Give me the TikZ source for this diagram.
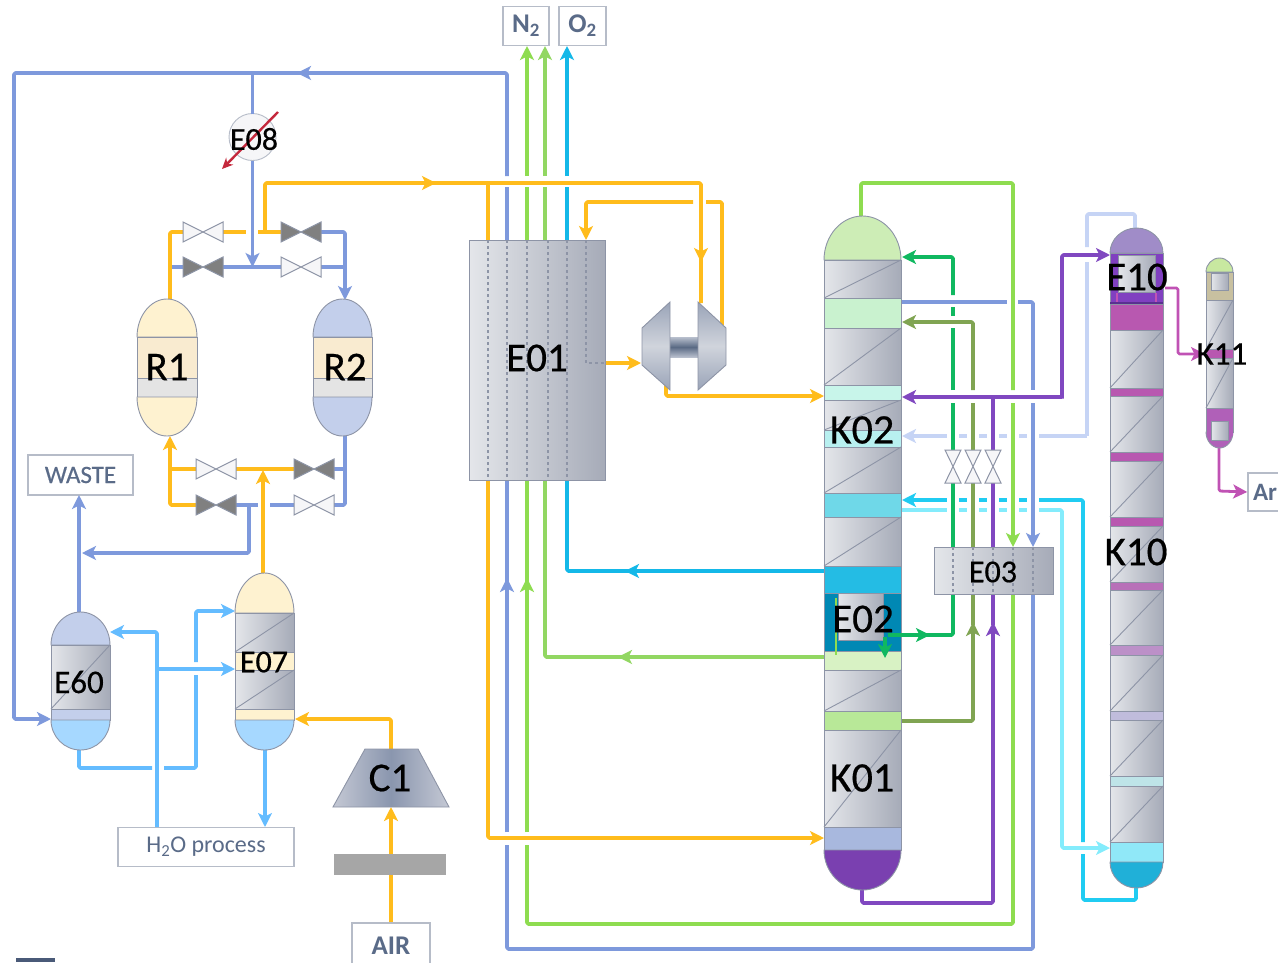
\documentclass[tikz,border=0pt]{standalone}
\usepackage{fontspec}
\setmainfont{Carlito}
\newfontfamily\tagfont[FakeBold=0.5]{Carlito}
\usetikzlibrary{arrows.meta}
\newcommand\hx[1]{\definecolor{#1}{HTML}{#1}}
\hx{B8BFCD}\hx{5A6A84}\hx{9AA4B8}\hx{D0D4DC}\hx{CDEDB6}\hx{C9F2CF}\hx{C8F5EA}\hx{B8F0F0}\hx{6FD8E8}\hx{24BCE4}\hx{0088B4}\hx{D8F2C4}\hx{B8E898}\hx{A8B8DE}\hx{7A40B0}\hx{A08CC8}\hx{8040C0}\hx{5A3090}\hx{B858B0}\hx{B870B8}\hx{BC90C8}\hx{C0BCDC}\hx{BEE4E8}\hx{90E8F8}\hx{20B0D8}\hx{C8E8A0}\hx{C8C0A0}\hx{B060B8}\hx{E4E4E4}\hx{C4C8D4}\hx{8A96AE}\hx{A6A6A6}\hx{C4283C}\hx{4A5A78}
\definecolor{cBlue}{HTML}{7E99DC}
\definecolor{cOrange}{HTML}{FFBC1C}
\definecolor{cLime}{HTML}{8EDC50}
\definecolor{cLimeB}{HTML}{92D762}
\definecolor{cCyan}{HTML}{14B8E8}
\definecolor{cSky}{HTML}{64BCFF}
\definecolor{cDG}{HTML}{10B860}
\definecolor{cOlive}{HTML}{80A452}
\definecolor{cPurple}{HTML}{8048C0}
\definecolor{cPeri}{HTML}{C6D4F5}
\definecolor{cCy2}{HTML}{20CCF2}
\definecolor{cCy3}{HTML}{84ECFC}
\definecolor{cMag}{HTML}{C052B4}
\definecolor{cEdge}{HTML}{8D94A6}
\definecolor{cBoxT}{HTML}{5A6B88}
\definecolor{cBoxE}{HTML}{B6BCC8}
\definecolor{cPL}{HTML}{E4E6EA}
\definecolor{cPR}{HTML}{A6ABB8}
\definecolor{cCream}{HTML}{FEF2D0}
\definecolor{cTan}{HTML}{F9EBD0}
\definecolor{cVblue}{HTML}{C3CFEB}
\definecolor{cWater}{HTML}{A6D8FF}
\tikzset{
  flow/.style={line width=3.7pt,rounded corners=1.5pt,line join=round},
  tipped/.style={-{Stealth[length=14pt,width=14pt,inset=3.5pt]}},
  edge/.style={draw=cEdge,line width=0.9pt},
  lbox/.style={draw=cBoxE,line width=1.6pt,fill=white,inner sep=0pt,text=cBoxT},
  tag/.style={inner sep=0pt,text=black},
  hold/.style={inner sep=0pt,outer sep=0pt},
  dots/.style={draw=cEdge,line width=1.3pt,dash pattern=on 2.5pt off 3.5pt}
}
\newcommand\bandseg[5]{\fill[#5] (#1,#3) rectangle (#2,#4);\draw[edge] (#1,#3) rectangle (#2,#4);}
\newcommand\packbed[4]{\shade[left color=cPL,right color=cPR] (#1,#3) rectangle (#2,#4);
  \draw[edge] (#1,#3) rectangle (#2,#4);\draw[edge] (#2,#3) -- (#1,#4);}
\newcommand\domeup[5]{\pgfmathsetmacro\dmx{(#1+#2)/2}\pgfmathsetmacro\dch{#4-0.55*(#4-#3)}\pgfmathsetmacro\dcl{\dmx-0.55*(#2-#1)/2}\pgfmathsetmacro\dcr{\dmx+0.55*(#2-#1)/2}
  \draw[edge,fill=#5] (#1,#4) .. controls (#1,\dch) and (\dcl,#3) .. (\dmx,#3) .. controls (\dcr,#3) and (#2,\dch) .. (#2,#4) -- cycle;}
\newcommand\domedn[5]{\pgfmathsetmacro\dmx{(#1+#2)/2}\pgfmathsetmacro\dch{#3+0.55*(#4-#3)}\pgfmathsetmacro\dcl{\dmx-0.55*(#2-#1)/2}\pgfmathsetmacro\dcr{\dmx+0.55*(#2-#1)/2}
  \draw[edge,fill=#5] (#1,#3) .. controls (#1,\dch) and (\dcl,#4) .. (\dmx,#4) .. controls (\dcr,#4) and (#2,\dch) .. (#2,#3) -- cycle;}
\newcommand\valveh[4]{\draw[draw=cEdge,line width=1pt,fill=#4] (#1.north west) -- (#1.south west) -- (#1.north east) -- (#1.south east) -- cycle;}
\newcommand\valvev[3]{\draw[draw=cEdge,line width=1pt,fill=white!92!cEdge] (#1.north west) -- (#1.north east) -- (#1.south west) -- (#1.south east) -- cycle;}
\newcommand\tipat[5]{\draw[flow,#1,tipped] ({#2-(#4)},{#3-(#5)}) -- (#2,#3);}
\newcommand\seglabel[4]{\node[tag,font=\tagfont\fontsize{#4}{#4}\selectfont] (#1) at (#2) {#3};}
\begin{document}
\begin{tikzpicture}[x=1pt,y=-1pt]
\useasboundingbox (0,0) rectangle (1278,962);
\clip (0,0) rectangle (1278,962);

% ---------- boxes
\node[lbox,minimum width=105pt,minimum height=40pt,font=\tagfont\fontsize{25}{25}\selectfont] (waste) at (80.5,475) {WASTE};
\node[lbox,minimum width=176pt,minimum height=39pt,font=\fontsize{24}{24}\selectfont] (hproc) at (206,847) {\raisebox{-3pt}{H\textsubscript{2}O process}};
\node[lbox,minimum width=78pt,minimum height=46pt,font=\fontsize{27}{27}\selectfont\bfseries] (air) at (391,946) {AIR};
\node[lbox,minimum width=46pt,minimum height=39pt,font=\fontsize{27}{27}\selectfont\bfseries] (ntwo) at (526,26) {N\textsubscript{2}};
\node[lbox,minimum width=47pt,minimum height=39pt,font=\fontsize{27}{27}\selectfont\bfseries] (otwo) at (582.5,26) {O\textsubscript{2}};
\node[lbox,minimum width=60pt,minimum height=38pt,font=\fontsize{25}{25}\selectfont\bfseries,text width=54pt,align=left] (argon) at (1278,492) {\hspace*{2pt}Ar};

% ---------- ports
\coordinate (e60w) at (51,719);
\coordinate (e60n) at (79,612);
\coordinate (e60s) at (79,750);
\coordinate (e60e) at (110,632);
\coordinate (e07a) at (235,611);
\coordinate (e07b) at (235,669);
\coordinate (e07n) at (263,573);
\coordinate (e07s) at (265,750);
\coordinate (e07e) at (295,719);
\coordinate (r1n) at (170,299);
\coordinate (r1s) at (170,436);
\coordinate (r2n) at (345,300);
\coordinate (r2s) at (345,436);
\coordinate (c1n) at (391,749);
\coordinate (c1s) at (391,807);
\coordinate (tbl) at (641,363);
\coordinate (tbr) at (722,325);
\coordinate (tbn) at (701,303);
\coordinate (tbs) at (666,385);
\coordinate (eo1) at (605,363);
\coordinate (kk1) at (824,396);
\coordinate (kk2) at (824,838);
\coordinate (kk3) at (824,571);
\coordinate (kk4) at (824,657);
\coordinate (kr1) at (902,257);
\coordinate (kr2) at (902,302);
\coordinate (kr3) at (902,322);
\coordinate (kr4) at (902,397);
\coordinate (kr5) at (902,436);
\coordinate (kr6) at (902,500);
\coordinate (kr7) at (902,510);
\coordinate (kr8) at (902,721);
\coordinate (ktop) at (861,216);
\coordinate (kbot) at (862,890);
\coordinate (xn) at (1110,255);
\coordinate (xe) at (1110,848);
\coordinate (xt) at (1135,228);
\coordinate (xb) at (1136,888);
\coordinate (xr) at (1165,288);
\coordinate (yw) at (1205,354);
\coordinate (ys) at (1219,448);

% ---------- left side connectors (drawn below the valves)
\node[hold,minimum width=40pt,minimum height=20pt] (va) at (203,232) {};
\node[hold,minimum width=40pt,minimum height=20pt] (vb) at (301,232) {};
\node[hold,minimum width=40pt,minimum height=20pt] (vc) at (203,267) {};
\node[hold,minimum width=40pt,minimum height=20pt] (vd) at (301,267) {};
\node[hold,minimum width=40pt,minimum height=20pt] (ve) at (216,469) {};
\node[hold,minimum width=40pt,minimum height=20pt] (vf) at (314,469) {};
\node[hold,minimum width=40pt,minimum height=20pt] (vg) at (216,505) {};
\node[hold,minimum width=40pt,minimum height=20pt] (vh) at (314,505) {};
\node[circle,hold,draw=cBoxE,fill=white!92!cEdge,line width=0.9pt,minimum size=47pt] (eo8) at (252.5,137) {};

\draw[flow,cBlue,tipped] (507,176) -- (507,73) -- (14,73) -- (14,719) -- (e60w);
\draw[flow,cBlue] (507,187) -- (507,240);
\tipat{cBlue}{297}{73}{-8}{0}
\draw[flow,cBlue] (252.5,73) -- (eo8.north);
\draw[flow,cBlue,tipped] (eo8.south) -- (252.5,267);
\draw[flow,cBlue] (172,267) -- (vc.west);
\draw[flow,cBlue] (vc.east) -- (vd.west);
\draw[flow,cBlue] (vd.east) -- (345,267);
\draw[flow,cBlue,tipped] (vb.east) -- (345,232) -- (r2n);
\draw[flow,cOrange] (r1n) -- (170,232) -- (va.west);
\draw[flow,cOrange] (va.east) -- (246,232);
\draw[flow,cOrange] (258,232) -- (vb.west);
\draw[flow,cOrange] (265,232) -- (265,183) -- (701,183) -- (tbn);
\tipat{cOrange}{436}{183}{8}{0}
\tipat{cOrange}{701}{262}{0}{8}
\draw[flow,cOrange,tipped] (vg.west) -- (170,505) -- (r1s);
\draw[flow,cOrange] (ve.west) -- (170,469);
\draw[flow,cOrange] (ve.east) -- (vf.west);
\draw[flow,cBlue] (vf.east) -- (345,469);
\draw[flow,cBlue] (vg.east) -- (258,505);
\draw[flow,cBlue] (270,505) -- (vh.west);
\draw[flow,cBlue] (vh.east) -- (345,505) -- (r2s);
\draw[flow,cOrange,tipped] (e07n) -- (263,470);
\draw[flow,cBlue,tipped] (249,505) -- (249,553) -- (82,553);
\draw[flow,cBlue,tipped] (e60n) -- (79,495);
\draw[flow,cSky,tipped] (157,827) -- (157,632) -- (e60e);
\draw[flow,cSky,tipped] (157,669) -- (e07b);
\draw[flow,cSky] (e60s) -- (79,768) -- (152,768);
\draw[flow,cSky] (164,768) -- (196,768) -- (196,675);
\draw[flow,cSky,tipped] (196,662) -- (196,611) -- (e07a);
\draw[flow,cSky,tipped] (e07s) -- (265,827);
\draw[flow,cOrange,tipped] (c1n) -- (391,719) -- (e07e);
\draw[flow,cOrange,tipped] (air.north) -- (c1s);

% ---------- valves
\valveh{va}{203}{232}{white!92!cEdge}
\valveh{vb}{301}{232}{gray}
\valveh{vc}{203}{267}{gray}
\valveh{vd}{301}{267}{white!92!cEdge}
\valveh{ve}{216}{469}{white!92!cEdge}
\valveh{vf}{314}{469}{gray}
\valveh{vg}{216}{505}{gray}
\valveh{vh}{314}{505}{white!92!cEdge}

% ---------- E01 connectors
\draw[flow,cLime,tipped] (527,176) -- (527,46);
\draw[flow,cLime] (527,187) -- (527,240);
\draw[flow,cLimeB,tipped] (545,176) -- (545,46);
\draw[flow,cLimeB] (545,187) -- (545,240);
\draw[flow,cCyan,tipped] (567,176) -- (567,46);
\draw[flow,cCyan] (567,187) -- (567,240);
\draw[flow,cOrange] (488,183) -- (488,240);
\draw[flow,cOrange] (tbr) -- (722,202) -- (706,202);
\draw[flow,cOrange,tipped] (693,202) -- (586,202) -- (586,240);
\draw[flow,cOrange,tipped] (eo1) -- (tbl);
\draw[flow,cOrange,tipped] (tbs) -- (666,396) -- (kk1);
\draw[flow,cOrange,tipped] (488,480) -- (488,838) -- (kk2);
\draw[flow,cCyan] (kk3) -- (567,571) -- (567,480);
\tipat{cCyan}{625}{571}{-8}{0}
\draw[flow,cLimeB] (kk4) -- (545,657) -- (545,480);
\tipat{cLimeB}{618}{657}{-8}{0}
\draw[flow,cBlue] (507,832) -- (507,480);
\tipat{cBlue}{507}{578}{0}{-8}
\draw[flow,cLime] (527,832) -- (527,480);
\tipat{cLime}{527}{578}{0}{-8}

% ---------- light lines right of the columns
\draw[flow,cPeri,tipped] (1087,436) -- (kr5);
\draw[flow,cPeri] (1087,247) -- (1087,214) -- (1135,214) -- (xt);
\draw[flow,cCy2,tipped] (1083,842) -- (1083,500) -- (kr6);
\draw[flow,cCy2] (1083,854) -- (1083,900) -- (1136,900) -- (xb);
\draw[flow,cCy3,tipped] (kr7) -- (1062,510) -- (1062,848) -- (xe);
\fill[white] (947,428) rectangle (959,516);
\fill[white] (967,428) rectangle (979,516);
\fill[white] (987,428) rectangle (999,516);
\fill[white] (1007,428) rectangle (1019,516);
\fill[white] (1027,428) rectangle (1039,516);
\draw[flow,cPeri] (1087,262) -- (1087,436);

% ---------- verticals at E03
\node[hold,minimum width=16pt,minimum height=33pt] (vx) at (953,466.5) {};
\node[hold,minimum width=16pt,minimum height=33pt] (vy) at (973,466.5) {};
\node[hold,minimum width=16pt,minimum height=33pt] (vz) at (993,466.5) {};
\draw[flow,cDG,tipped] (953,295) -- (953,257) -- (kr1);
\draw[flow,cDG] (953,316) -- (953,307);
\draw[flow,cDG] (953,390) -- (953,328);
\draw[flow,cDG] (953,403) -- (vx.north);
\draw[flow,cDG] (vx.south) -- (953,547);
\draw[flow,cOlive,tipped] (973,390) -- (973,322) -- (kr3);
\draw[flow,cOlive] (973,403) -- (vy.north);
\draw[flow,cOlive] (vy.south) -- (973,547);
\draw[flow,cPurple] (993,397) -- (vz.north);
\draw[flow,cPurple] (vz.south) -- (993,547);
\draw[flow,cPurple,tipped] (1062,397) -- (kr4);
\draw[flow,cPurple,tipped] (1062,398.6) -- (1062,255) -- (xn);
\draw[flow,cLime] (ktop) -- (861,183) -- (1013,183) -- (1013,390);
\draw[flow,cLime,tipped] (1013,403) -- (1013,547);
\draw[flow,cBlue] (1033,312) -- (1033,390);
\draw[flow,cBlue,tipped] (1033,403) -- (1033,547);
\draw[flow,cBlue] (kr2) -- (1007,302);
\draw[flow,cBlue] (1018,302) -- (1033,302) -- (1033,312);
\valvev{vx}{953}{466.5}
\valvev{vy}{973}{466.5}
\valvev{vz}{993}{466.5}
% below E03
\draw[flow,cDG] (953,594) -- (953,635) -- (888,635);
\tipat{cDG}{930}{635}{8}{0}
\draw[flow,cOlive,tipped] (kr8) -- (973,721) -- (973,622);
\draw[flow,cOlive] (973,625) -- (973,594);
\draw[flow,cPurple,tipped] (kbot) -- (862,903) -- (993,903) -- (993,622);
\draw[flow,cPurple] (993,625) -- (993,594);
\draw[flow,cLime] (1013,594) -- (1013,924) -- (527,924) -- (527,845);
\draw[flow,cBlue] (1033,594) -- (1033,949) -- (507,949) -- (507,845);

% ---------- magenta
\draw[flow,cMag,tipped,line width=2.8pt] (xr) -- (1178,288) -- (1178,354) -- (yw);
\draw[flow,cMag,tipped,line width=2.8pt] (ys) -- (1219,491) -- (argon.west);

% ---------- E01
\node[hold,minimum width=136pt,minimum height=240pt] (eone) at (537,360) {};
\shade[left color=cPL,right color=cPR] (eone.north west) rectangle (eone.south east);
\draw[edge] (eone.north west) rectangle (eone.south east);
\foreach \q in {488,507,527,548,567} {\draw[dots] (\q,240) -- (\q,480);}
\draw[dots] (586,240) -- (586,363) -- (605,363);

% ---------- turbine
\node[hold,minimum width=85pt,minimum height=88pt] (turb) at (684,346) {};
\shade[top color=B8BFCD,bottom color=B8BFCD,middle color=5A6A84] (670,337) rectangle (698,357);
\shade[top color=9AA4B8,bottom color=9AA4B8,middle color=D0D4DC] (642,328) -- (670,302) -- (670,390) -- (642,365) -- cycle;
\draw[edge] (642,328) -- (670,302) -- (670,390) -- (642,365) -- cycle;
\shade[top color=9AA4B8,bottom color=9AA4B8,middle color=D0D4DC] (698,302) -- (726,328) -- (726,365) -- (698,390) -- cycle;
\draw[edge] (698,302) -- (726,328) -- (726,365) -- (698,390) -- cycle;

% ---------- E03
\node[hold,minimum width=119pt,minimum height=47pt] (ethree) at (993.5,570.5) {};
\shade[left color=cPL,right color=cPR] (ethree.north west) rectangle (ethree.south east);
\draw[edge] (ethree.north west) rectangle (ethree.south east);
\foreach \q in {953,973,993,1013,1033} {\draw[dots] (\q,547) -- (\q,594);}

% ---------- K01/K02 column
\domeup{824}{901}{216}{260}{CDEDB6}
\packbed{824}{901}{260}{298}
\bandseg{824}{901}{298}{328}{C9F2CF}
\packbed{824}{901}{328}{385}
\bandseg{824}{901}{385}{400}{C8F5EA}
\packbed{824}{901}{400}{430}
\bandseg{824}{901}{430}{447}{B8F0F0}
\packbed{824}{901}{447}{493}
\bandseg{824}{901}{493}{517}{6FD8E8}
\packbed{824}{901}{517}{566}
\bandseg{824}{901}{566}{593}{24BCE4}
\bandseg{824}{901}{593}{651}{0088B4}
\bandseg{824}{901}{651}{670}{D8F2C4}
\packbed{824}{901}{670}{711}
\bandseg{824}{901}{711}{730}{B8E898}
\packbed{824}{901}{730}{827}
\bandseg{824}{901}{827}{850}{A8B8DE}
\domedn{824}{901}{850}{890}{7A40B0}
\shade[left color=cPL,right color=cPR] (838,593) rectangle (883,640);
\draw[edge] (838,593) rectangle (883,640);
\draw[flow,cLime,line width=2pt] (836,598) -- (836,655);
\draw[flow,cDG] (888,635) -- (905,635);
\draw[flow,cDG,tipped] (885,637) -- (885,658);

% ---------- K10 column
\domeup{1110}{1163}{228}{253}{A08CC8}
\bandseg{1110}{1163}{253}{304}{8040C0}
\shade[left color=cPL,right color=cPR] (1118,255) rectangle (1155,292);
\draw[edge] (1118,255) rectangle (1155,292);
\draw[cMag,line width=2pt] (1117,293) -- (1117,308);
\draw[cMag,line width=2pt] (1156,293) -- (1156,308);
\draw[5A3090,line width=2pt] (1110,303) -- (1163,303);
\bandseg{1110}{1163}{304}{330}{B858B0}
\packbed{1110}{1163}{330}{388}
\bandseg{1110}{1163}{388}{396}{B858B0}
\packbed{1110}{1163}{396}{452}
\bandseg{1110}{1163}{452}{461}{B858B0}
\packbed{1110}{1163}{461}{517}
\bandseg{1110}{1163}{517}{526}{B858B0}
\packbed{1110}{1163}{526}{582}
\bandseg{1110}{1163}{582}{590}{B870B8}
\packbed{1110}{1163}{590}{645}
\bandseg{1110}{1163}{645}{655}{BC90C8}
\packbed{1110}{1163}{655}{711}
\bandseg{1110}{1163}{711}{720}{C0BCDC}
\packbed{1110}{1163}{720}{776}
\bandseg{1110}{1163}{776}{786}{BEE4E8}
\packbed{1110}{1163}{786}{842}
\bandseg{1110}{1163}{842}{862}{90E8F8}
\domedn{1110}{1163}{862}{888}{20B0D8}

% ---------- K11
\domeup{1206}{1233}{258}{272}{C8E8A0}
\bandseg{1206}{1233}{272}{300}{C8C0A0}
\shade[left color=cPL,right color=cPR] (1211,273) rectangle (1228,290);
\draw[edge] (1211,273) rectangle (1228,290);
\packbed{1206}{1233}{300}{349}
\bandseg{1206}{1233}{349}{358}{B858B0}
\packbed{1206}{1233}{358}{408}
\bandseg{1206}{1233}{408}{432}{B060B8}
\domedn{1206}{1233}{432}{448}{B060B8}
\fill[B060B8] (1206.5,428) rectangle (1232.5,436);
\shade[left color=cPL,right color=cPR] (1211,421) rectangle (1228,440);
\draw[edge] (1211,421) rectangle (1228,440);

% ---------- R1, R2
\domeup{137}{197}{299}{337}{cCream}
\bandseg{137}{197}{337}{378}{cTan}
\bandseg{137}{197}{378}{397}{E4E4E4}
\domedn{137}{197}{397}{436}{cCream}
\domeup{313}{372}{299}{337}{cVblue}
\bandseg{313}{372}{337}{378}{cTan}
\bandseg{313}{372}{378}{397}{E4E4E4}
\domedn{313}{372}{397}{436}{cVblue}

% ---------- E60, E07
\domeup{51}{110}{612}{645}{cVblue}
\packbed{51}{110}{645}{709}
\bandseg{51}{110}{709}{720}{cVblue}
\domedn{51}{110}{720}{750}{cWater}
\domeup{235}{294}{573}{613}{cCream}
\packbed{235}{294}{613}{652}
\bandseg{235}{294}{652}{670}{cCream}
\packbed{235}{294}{670}{709}
\bandseg{235}{294}{709}{720}{cCream}
\domedn{235}{294}{720}{750}{cWater}

% ---------- C1 and filter
\shade[left color=C4C8D4,right color=C4C8D4,middle color=8A96AE] (365,749) -- (418,749) -- (449,807) -- (333,807) -- cycle;
\draw[edge] (365,749) -- (418,749) -- (449,807) -- (333,807) -- cycle;
\node[hold,minimum width=112pt,minimum height=21pt,fill=A6A6A6] (filt) at (390,864) {};

% ---------- E08 arrow, corner mark
\draw[line width=2.4pt,C4283C,-{Stealth[length=11pt,width=10pt]}] (278,112) -- (222,169);
\fill[4A5A78] (16,958) rectangle (55,962);

% ---------- labels
\seglabel{ltrone}{167,367}{R1}{41}
\seglabel{ltrtwo}{345,367}{R2}{41}
\seglabel{lteone}{537,358}{E01}{41}
\seglabel{ltcone}{390,778}{C1}{41}
\seglabel{ltkone}{862,778}{K01}{42}
\seglabel{ltktwo}{862,430}{K02}{42}
\seglabel{ltetwo}{863,619}{E02}{41}
\seglabel{ltethree}{993,572}{E03}{32}
\seglabel{ltesix}{79,682}{E60}{33}
\seglabel{ltesev}{264,662}{E07}{32}
\seglabel{lteeig}{254,139}{E08}{32}
\seglabel{ltkel}{1222,354}{K11}{33}
\seglabel{lteten}{1137,277}{E10}{41}
\seglabel{ltkten}{1136,552}{K10}{41}
\end{tikzpicture}
\end{document}
